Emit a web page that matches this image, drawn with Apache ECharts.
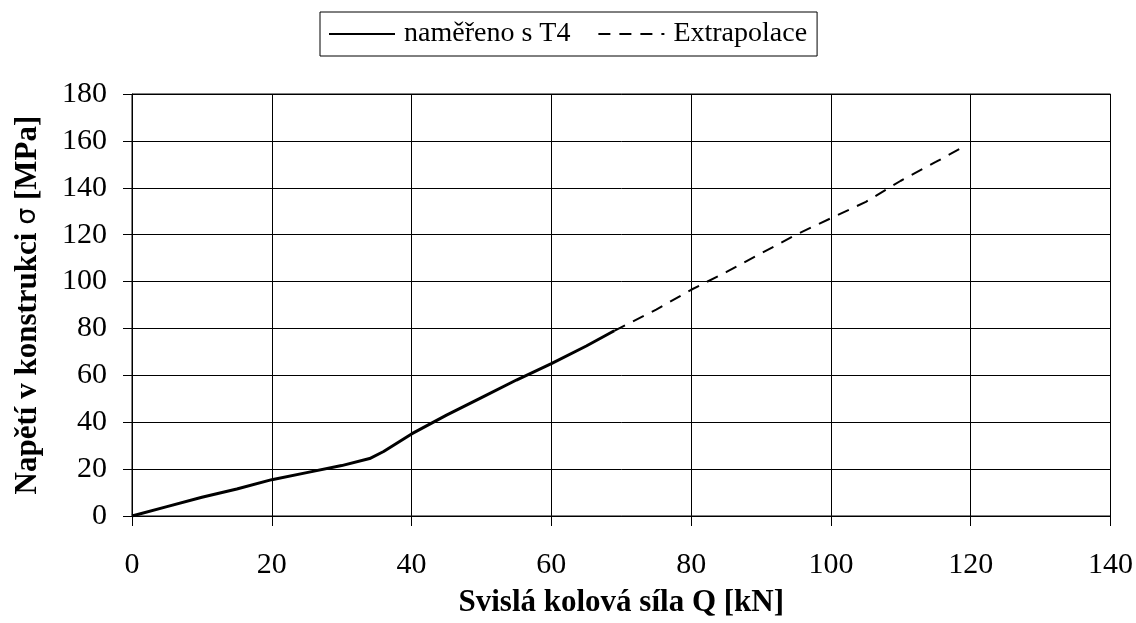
<!DOCTYPE html>
<html>
<head>
<meta charset="utf-8">
<script src="https://cdn.jsdelivr.net/npm/echarts@6/dist/echarts.min.js"></script>
<style>
  html, body { margin: 0; padding: 0; background: #fff; }
  #chart { width: 1136px; height: 623px; }
</style>
</head>
<body>
<div id="chart"></div>
<script>
// naměřeno s T4 (Q [kN], sigma [MPa])
var measuredQ = [0, 5, 10, 15, 20, 25, 30, 34, 36, 40, 45, 50, 55, 60, 65, 69]
var measuredS = [0, 4, 8, 11.5, 15.5, 18.5, 21.5, 24.5, 27.5, 35, 43, 50.5, 58, 65, 72.5, 79]
// Extrapolace
var extraQ = [69, 75, 80, 85, 90, 95, 100, 105, 110, 115, 119]
var extraS = [79, 88, 96.5, 104, 112, 120, 127, 134, 143, 151, 157.5]

var seriesNames = ['naměřeno s T4', 'Extrapolace']

function pairs(xs, ys) {
  return xs.map(function (x, i) { return [x, ys[i]] })
}

var chart = echarts.init(document.getElementById('chart'))
var font = '"Liberation Serif", "Times New Roman", serif'

chart.setOption({
  animation: false,
  textStyle: { fontFamily: font, color: '#000' },
  legend: {
    data: seriesNames,
    left: 320,
    top: 12,
    padding: [8, 10, 8, 8],
    borderColor: '#000',
    borderWidth: 1,
    itemWidth: 66,
    itemHeight: 14,
    itemGap: 27,
    itemStyle: { opacity: 0 },
    textStyle: { fontFamily: font, fontSize: 28, color: '#000', padding: [0, 0, 0, 4] }
  },
  grid: {
    left: 132,
    right: 25,
    top: 94,
    bottom: 105,
    show: true,
    borderColor: '#000',
    borderWidth: 1
  },
  xAxis: {
    type: 'value',
    min: 0,
    max: 140,
    interval: 20,
    name: 'Svislá kolová síla Q [kN]',
    nameLocation: 'middle',
    nameGap: 71,
    nameTextStyle: { fontFamily: font, fontSize: 31, fontWeight: 'bold', color: '#000' },
    axisLine: { lineStyle: { color: '#000', width: 1 } },
    axisTick: { show: true, inside: false, length: 10, lineStyle: { color: '#000' } },
    axisLabel: { fontFamily: font, fontSize: 30, color: '#000', margin: 34 },
    splitLine: { show: true, lineStyle: { color: '#000', width: 1 } }
  },
  yAxis: {
    type: 'value',
    min: 0,
    max: 180,
    interval: 20,
    name: 'Napětí v konstrukci {s|σ} [MPa]',
    nameLocation: 'middle',
    nameGap: 89,
    nameTextStyle: {
      fontFamily: font, fontSize: 31, fontWeight: 'bold', color: '#000',
      rich: { s: { fontFamily: 'DejaVu Sans', fontSize: 27, fontWeight: 'normal', color: '#000' } }
    },
    axisLine: { show: true, lineStyle: { color: '#000', width: 1 } },
    axisTick: { show: true, inside: false, length: 9, lineStyle: { color: '#000' } },
    axisLabel: { fontFamily: font, fontSize: 30, color: '#000', margin: 25 },
    splitLine: { show: true, lineStyle: { color: '#000', width: 1 } }
  },
  series: [
    {
      name: seriesNames[0],
      type: 'line',
      symbol: 'none',
      data: pairs(measuredQ, measuredS),
      lineStyle: { color: '#000', width: 3 },
      itemStyle: { color: '#000' }
    },
    {
      name: seriesNames[1],
      type: 'line',
      symbol: 'none',
      data: pairs(extraQ, extraS),
      lineStyle: { color: '#000', width: 2, type: [12, 9] },
      itemStyle: { color: '#000' }
    }
  ]
})
</script>
</body>
</html>
